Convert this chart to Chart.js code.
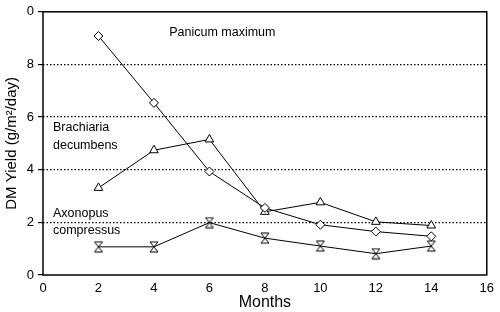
<!DOCTYPE html>
<html>
<head>
<meta charset="utf-8">
<script src="https://cdn.jsdelivr.net/npm/chart.js@4"></script>
<style>
  html, body { margin: 0; padding: 0; background: #fff; }
  #wrap { width: 500px; height: 312px; position: relative; }
</style>
</head>
<body>
<div id="wrap"><canvas id="yieldChart"></canvas></div>
<script>
// DM yield vs months, three grasses
const months = [2, 4, 6, 8, 10, 12, 14];
const panicum = [9.08, 6.54, 3.93, 2.55, 1.91, 1.65, 1.47];
const brachiaria = [3.31, 4.74, 5.15, 2.4, 2.76, 2.02, 1.88];
const axonopus = [1.07, 1.07, 1.99, 1.4, 1.1, 0.81, 1.1];
const yTickLabels = { 0: '0', 2: '2', 4: '4', 6: '6', 8: '8', 10: '0' };
const notes = [
  { text: 'Panicum maximum', x: 4.55, y: 9.2 },
  { text: 'Brachiaria', x: 0.36, y: 5.6 },
  { text: 'decumbens', x: 0.36, y: 4.93 },
  { text: 'Axonopus', x: 0.36, y: 2.35 },
  { text: 'compressus', x: 0.36, y: 1.68 }
];

const FONT = '"Liberation Sans", Arial, Helvetica, sans-serif';

// hourglass marker for Axonopus
function hourglass() {
  const c = document.createElement('canvas');
  c.width = 10; c.height = 12;
  const g = c.getContext('2d');
  g.fillStyle = '#fff';
  g.strokeStyle = '#000';
  g.lineWidth = 1;
  g.beginPath();
  g.moveTo(1, 1); g.lineTo(9, 1); g.lineTo(5, 6); g.lineTo(9, 11); g.lineTo(1, 11); g.lineTo(5, 6); g.closePath();
  g.fill(); g.stroke();
  return c;
}

const frameAndNotes = {
  id: 'frameAndNotes',
  afterDraw(chart) {
    const { ctx, chartArea: a, scales } = chart;
    ctx.save();
    ctx.strokeStyle = '#000';
    ctx.lineWidth = 1.5;
    ctx.strokeRect(a.left, a.top, a.right - a.left, a.bottom - a.top);
    ctx.fillStyle = '#000';
    ctx.font = '12.5px ' + FONT;
    ctx.textBaseline = 'middle';
    notes.forEach(n => {
      ctx.fillText(n.text, scales.x.getPixelForValue(n.x), scales.y.getPixelForValue(n.y));
    });
    ctx.restore();
  }
};

const lineStyle = { borderColor: '#000', borderWidth: 1, backgroundColor: '#fff', pointBorderColor: '#000', pointBackgroundColor: '#fff', pointBorderWidth: 1, tension: 0 };

new Chart(document.getElementById('yieldChart'), {
  type: 'line',
  data: {
    labels: months,
    datasets: [
      { ...lineStyle, label: 'Panicum maximum', data: panicum.map((v, i) => ({ x: months[i], y: v })), pointStyle: 'rectRot', pointRadius: 4.5 },
      { ...lineStyle, label: 'Brachiaria decumbens', data: brachiaria.map((v, i) => ({ x: months[i], y: v })), pointStyle: 'triangle', pointRadius: 5 },
      { ...lineStyle, label: 'Axonopus compressus', data: axonopus.map((v, i) => ({ x: months[i], y: v })), pointStyle: hourglass(), pointRadius: 5 }
    ]
  },
  options: {
    responsive: true,
    maintainAspectRatio: false,
    animation: false,
    layout: { padding: { top: 3, right: 10, left: 0, bottom: 0 } },
    plugins: { legend: { display: false }, tooltip: { enabled: false } },
    scales: {
      x: {
        type: 'linear', min: 0, max: 16,
        ticks: { stepSize: 2, color: '#000', padding: 6, font: { family: FONT, size: 13 } },
        grid: { display: false, drawTicks: false },
        border: { display: false },
        title: { display: true, text: 'Months', color: '#000', font: { family: FONT, size: 16 }, padding: { top: 0, bottom: 0 } },
        afterFit(s) { s.height = 37; }
      },
      y: {
        min: 0, max: 10,
        ticks: { stepSize: 2, color: '#000', padding: 4, font: { family: FONT, size: 13 }, callback: v => yTickLabels[v] },
        grid: {
          color: c => (c.tick && c.tick.value > 0 && c.tick.value < 10) ? '#000' : 'rgba(0,0,0,0)',
          tickColor: '#000',
          tickLength: 5,
          lineWidth: 1.2
        },
        border: { display: false, dash: [1.5, 2] },
        title: { display: true, text: 'DM Yield (g/m²/day)', color: '#000', font: { family: FONT, size: 15 }, padding: { top: 3, bottom: 0 } },
        afterFit(s) { s.width = 43; }
      }
    }
  },
  plugins: [frameAndNotes]
});
</script>
</body>
</html>
